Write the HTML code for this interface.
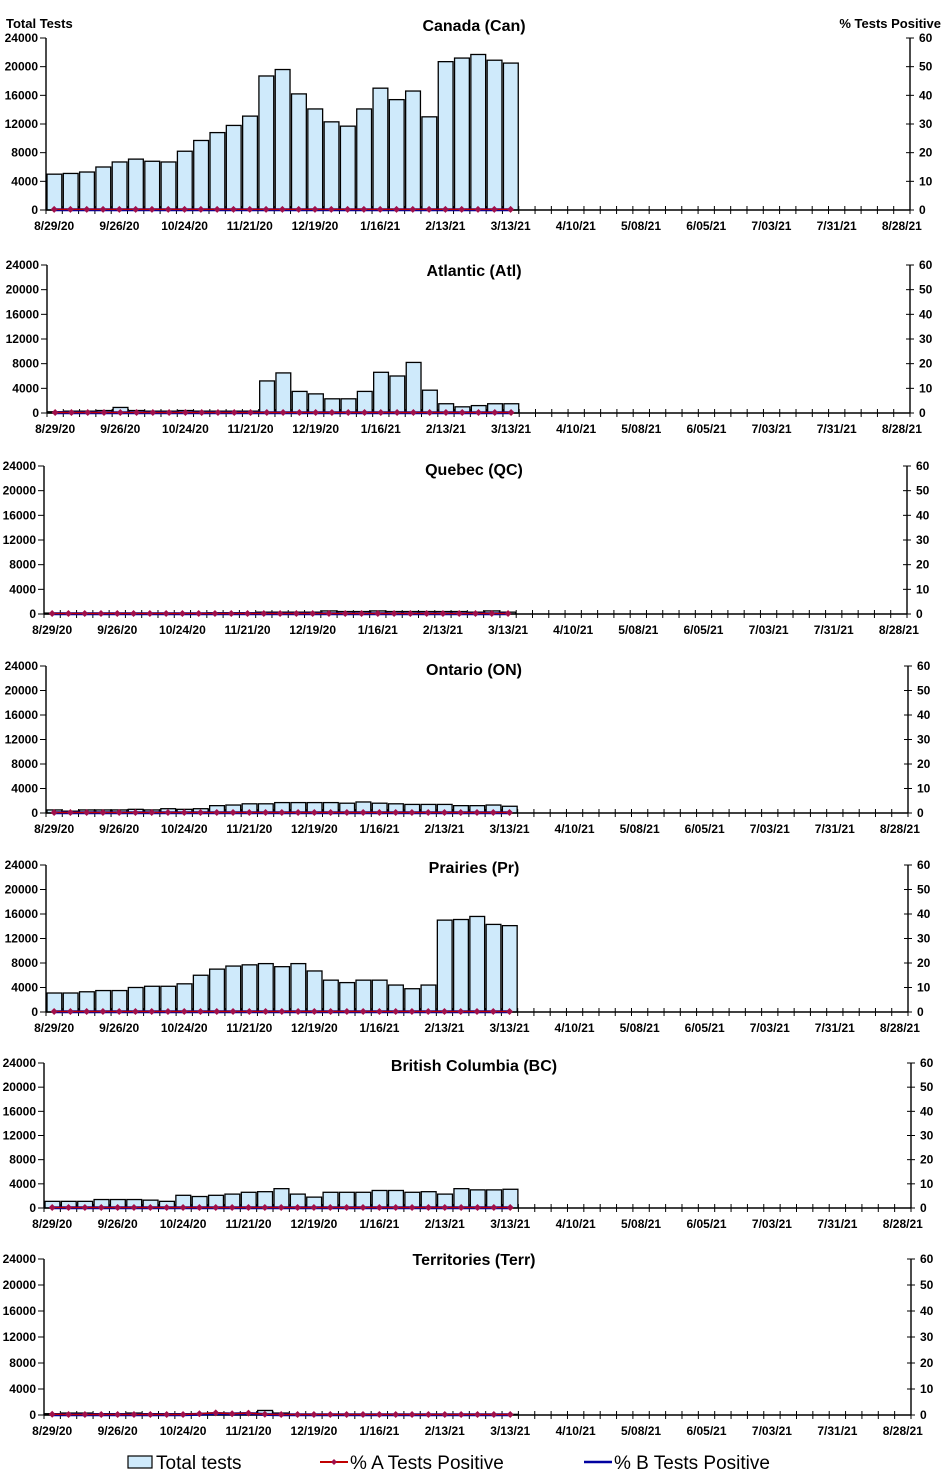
<!DOCTYPE html>
<html><head><meta charset="utf-8"><style>
html,body{margin:0;padding:0;background:#fff;}
svg{display:block;font-family:"Liberation Sans",Arial,sans-serif;}
.t{font-size:12px;font-weight:bold;fill:#000;}
.ti{font-size:16px;font-weight:bold;fill:#000;}
.lg{font-size:19px;fill:#000;}
</style></head><body>
<svg id="chart" width="947" height="1476" viewBox="0 0 947 1476"></svg>
<script>
const weekLabels=["8/29/20","9/26/20","10/24/20","11/21/20","12/19/20","1/16/21","2/13/21","3/13/21","4/10/21","5/08/21","6/05/21","7/03/21","7/31/21","8/28/21"];
const leftTicks=[0,4000,8000,12000,16000,20000,24000];
const rightTicks=[0,10,20,30,40,50,60];
const regionNames=["Canada (Can)","Atlantic (Atl)","Quebec (QC)","Ontario (ON)","Prairies (Pr)","British Columbia (BC)","Territories (Terr)"];
const canTests=[5000,5100,5300,6000,6700,7100,6800,6700,8200,9700,10800,11800,13100,18700,19600,16200,14100,12300,11700,14100,17000,15400,16600,13000,20700,21200,21700,20900,20500];
const atlTests=[200,300,300,400,900,400,300,300,400,300,300,300,300,5200,6500,3500,3100,2300,2300,3500,6600,6000,8200,3700,1500,1000,1200,1500,1500];
const qcTests=[150,150,150,150,150,150,150,150,150,150,200,200,200,300,300,300,300,500,400,400,500,400,400,400,400,400,300,500,300];
const onTests=[500,300,500,500,500,600,500,700,600,700,1200,1300,1500,1500,1700,1700,1700,1700,1600,1800,1600,1500,1400,1400,1400,1200,1200,1300,1100];
const prTests=[3100,3100,3300,3500,3500,4000,4200,4200,4600,6000,7000,7500,7700,7900,7400,7900,6700,5200,4800,5200,5200,4400,3800,4400,15000,15100,15600,14300,14100];
const bcTests=[1100,1100,1100,1400,1400,1400,1300,1100,2100,1900,2100,2300,2600,2700,3200,2300,1800,2600,2600,2600,2900,2900,2600,2700,2300,3200,3000,3000,3100];
const terrTests=[200,300,300,200,200,300,200,200,200,200,300,300,300,700,300,100,100,100,100,100,100,100,100,100,100,100,100,100,100];
const canA=[0.2,0.2,0.2,0.2,0.2,0.2,0.2,0.2,0.2,0.2,0.2,0.2,0.2,0.2,0.2,0.2,0.2,0.2,0.2,0.2,0.2,0.2,0.2,0.2,0.2,0.2,0.2,0.2,0.2];
const canB=[0.1,0.1,0.1,0.1,0.1,0.1,0.1,0.1,0.1,0.1,0.1,0.1,0.1,0.1,0.1,0.1,0.1,0.1,0.1,0.1,0.1,0.1,0.1,0.1,0.1,0.1,0.1,0.1,0.1];
const terrA=[0.3,0.2,0.2,0.2,0.2,0.2,0.2,0.2,0.2,0.5,0.8,0.5,0.7,0.3,0.2,0.2,0.2,0.2,0.2,0.2,0.2,0.2,0.2,0.2,0.2,0.2,0.2,0.2,0.2];
const terrB=[0.1,0.1,0.1,0.1,0.1,0.1,0.1,0.1,0.1,0.3,0.6,0.4,0.6,0.2,0.1,0.1,0.1,0.1,0.1,0.1,0.1,0.1,0.1,0.1,0.1,0.1,0.1,0.1,0.1];
const testsSeries=[canTests,atlTests,qcTests,onTests,prTests,bcTests,terrTests];
const aSeries=[canA,canA,canA,canA,canA,canA,terrA];
const bSeries=[canB,canB,canB,canB,canB,canB,terrB];

const panels=[
 {top:38,bot:210,x0:46,x1:910,ty:31},
 {top:265,bot:413,x0:47,x1:910,ty:276},
 {top:466,bot:614,x0:44,x1:907,ty:475},
 {top:666,bot:813,x0:46,x1:908,ty:675},
 {top:865,bot:1012,x0:46,x1:908,ty:873},
 {top:1063,bot:1208,x0:44,x1:911,ty:1071},
 {top:1259,bot:1415,x0:44,x1:911,ty:1265}
];
const NS="http://www.w3.org/2000/svg";
const svg=document.getElementById('chart');
function mk(tag,attrs,parent){const e=document.createElementNS(NS,tag);for(const k in attrs)e.setAttribute(k,attrs[k]);(parent||svg).appendChild(e);return e;}
const N=53;
panels.forEach((p,pi)=>{
 const g=mk('g',{});
 
 
 const step=(p.x1-p.x0)/N;
 const xs=i=>p.x0+step*i;
 const yL=v=>p.bot-(v/24000)*(p.bot-p.top);
 const yR=v=>p.bot-(v/60)*(p.bot-p.top);
 testsSeries[pi].forEach((v,i)=>{
  const r=mk('rect',{x:xs(i)+1,y:yL(v),width:step-1.5,height:p.bot-yL(v),fill:'#cfeafb',stroke:'#000','stroke-width':1.3},g);
  
  
 });
 mk('line',{x1:p.x0,y1:p.top,x2:p.x0,y2:p.bot,stroke:'#000','stroke-width':1.4},g);
 mk('line',{x1:p.x1,y1:p.top,x2:p.x1,y2:p.bot,stroke:'#000','stroke-width':1.4},g);
 mk('line',{x1:p.x0,y1:p.bot,x2:p.x1,y2:p.bot,stroke:'#000','stroke-width':1.4},g);
 for(let i=0;i<=N;i++)mk('line',{x1:xs(i),y1:p.bot-4,x2:xs(i),y2:p.bot+4,stroke:'#000','stroke-width':1},g);
 leftTicks.forEach(v=>{
  mk('line',{x1:p.x0-6,y1:yL(v),x2:p.x0,y2:yL(v),stroke:'#000'},g);
  const t=mk('text',{x:p.x0-8,y:yL(v)+4,'text-anchor':'end',class:'t'},g);t.textContent=v;
  
 });
 rightTicks.forEach(v=>{
  mk('line',{x1:p.x1-4,y1:yR(v),x2:p.x1+4,y2:yR(v),stroke:'#000'},g);
  const t=mk('text',{x:p.x1+9,y:yR(v)+4,class:'t'},g);t.textContent=v;
  
 });
 weekLabels.forEach((l,i)=>{
  const t=mk('text',{x:xs(i*4)+step/2,y:p.bot+20,'text-anchor':'middle',class:'t'},g);t.textContent=l;
  
 });
 const ptsB=bSeries[pi].map((v,i)=>(xs(i)+step/2)+','+yR(v)).join(' ');
 const lb=mk('polyline',{points:ptsB,fill:'none',stroke:'#0000a0','stroke-width':3},g);
 
 const ptsA=aSeries[pi].map((v,i)=>(xs(i)+step/2)+','+yR(v)).join(' ');
 const la=mk('polyline',{points:ptsA,fill:'none',stroke:'#c00000','stroke-width':1.5},g);
 
 aSeries[pi].forEach((v,i)=>{
  const cx=xs(i)+step/2,cy=yR(v);
  const d=mk('polygon',{points:`${cx},${cy-3.5} ${cx+3.5},${cy} ${cx},${cy+3.5} ${cx-3.5},${cy}`,fill:'#a0104a'},g);
  
 });
 const tt=mk('text',{x:474,y:p.ty,'text-anchor':'middle',class:'ti'},g);tt.textContent=regionNames[pi];
 
});
</script>
<svg style="position:absolute;left:0;top:0" width="947" height="1476">
<text x="6" y="28" class="t" style="font-size:13px">Total Tests</text>
<text x="941" y="28" text-anchor="end" class="t" style="font-size:13px">% Tests Positive</text>
<g>
<rect x="128" y="1456" width="24" height="12" fill="#cfeafb" stroke="#000" stroke-width="1.2"/>
<text x="156" y="1469" class="lg">Total tests</text>
<line x1="320" y1="1462" x2="348" y2="1462" stroke="#c00000" stroke-width="2"/>
<polygon points="334,1459 337,1462 334,1465 331,1462" fill="#a0104a"/>
<text x="350" y="1469" class="lg">% A Tests Positive</text>
<line x1="584" y1="1462" x2="612" y2="1462" stroke="#0000a0" stroke-width="2.5"/>
<text x="614" y="1469" class="lg">% B Tests Positive</text>
</g>
</svg>
</body></html>
